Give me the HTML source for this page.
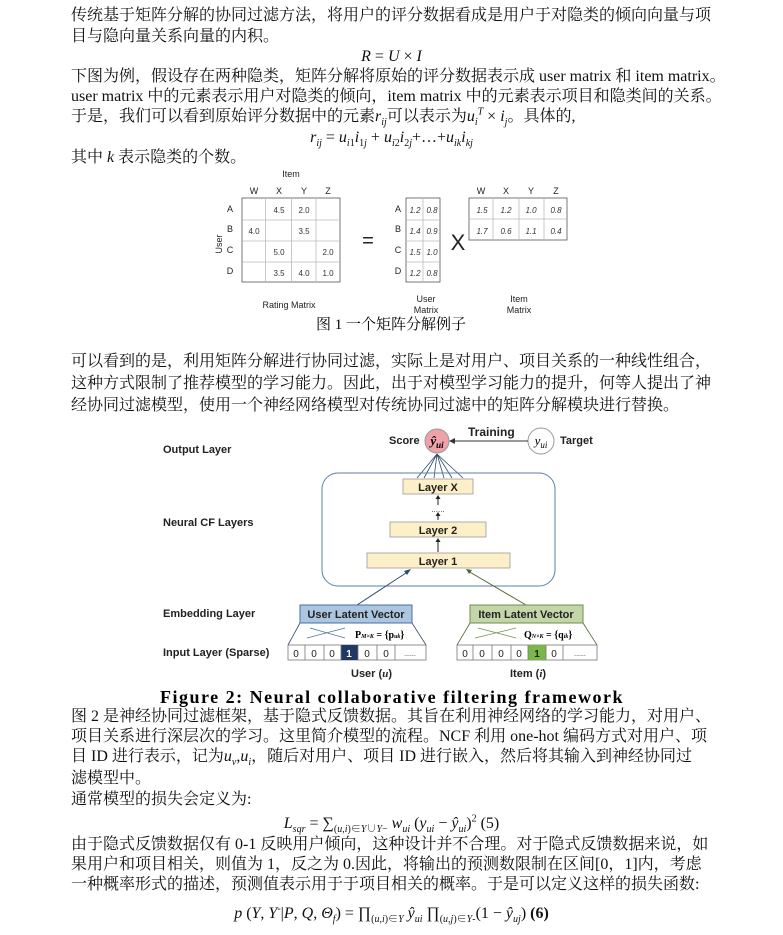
<!DOCTYPE html>
<html><head><meta charset="utf-8"><style>
body{margin:0;background:#fff;width:783px;height:935px;position:relative;overflow:hidden;font-family:"Liberation Serif","Noto Serif CJK SC",serif;color:#111}
.l{position:absolute;left:71px;font-size:16px;white-space:nowrap;line-height:20px;height:20px}
.c{position:absolute;left:0;width:783px;text-align:center;font-size:16px;white-space:nowrap;line-height:20px;height:20px}
i{font-style:italic}
sub,sup{line-height:0;font-size:10px}
svg{position:absolute;left:0;top:0}
</style></head><body>
<div class="l" style="top:6px">传统基于矩阵分解的协同过滤方法，将用户的评分数据看成是用户于对隐类的倾向向量与项</div>
<div class="l" style="top:27px">目与隐向量关系向量的内积。</div>
<div class="c" style="top:47px"><i>R</i> = <i>U</i> × <i>I</i></div>
<div class="l" style="top:67px">下图为例，假设存在两种隐类，矩阵分解将原始的评分数据表示成 user matrix 和 item matrix。</div>
<div class="l" style="top:87px">user matrix 中的元素表示用户对隐类的倾向，item matrix 中的元素表示项目和隐类间的关系。</div>
<div class="l" style="top:107px">于是，我们可以看到原始评分数据中的元素<i>r<sub>ij</sub></i>可以表示为<i>u<sub>i</sub><sup>T</sup></i> × <i>i<sub>j</sub></i>。具体的,</div>
<div class="c" style="top:128px"><i>r<sub>ij</sub></i> = <i>u</i><sub><i>i</i>1</sub><i>i</i><sub>1<i>j</i></sub> + <i>u</i><sub><i>i</i>2</sub><i>i</i><sub>2<i>j</i></sub>+…+<i>u<sub>ik</sub>i<sub>kj</sub></i></div>
<div class="l" style="top:148px">其中 <i>k</i> 表示隐类的个数。</div>

<svg width="783" height="935" font-family="Liberation Sans, DejaVu Sans, sans-serif">
<g font-size="9" fill="#222" text-anchor="middle">
<text x="291" y="177">Item</text>
<text x="254" y="194">W</text><text x="279" y="194">X</text><text x="304" y="194">Y</text><text x="328" y="194">Z</text>
<text x="230" y="212">A</text><text x="230" y="232">B</text><text x="230" y="253">C</text><text x="230" y="274">D</text>
<text transform="translate(222,244) rotate(-90)">User</text>
</g>
<g stroke="#555" fill="none" stroke-width="0.8">
<rect x="242" y="198" width="98" height="84"/>
<path d="M265.6 198V282M291.6 198V282M316 198V282M242 220H340M242 241H340M242 262H340" stroke="#bbb"/>
<rect x="406" y="198" width="34" height="84"/>
<path d="M423 198V282M406 220H440M406 241H440M406 262H440" stroke="#bbb"/>
<rect x="469" y="198" width="98" height="42"/>
<path d="M493 198V240M519 198V240M544 198V240M469 219H567" stroke="#bbb"/>
</g>
<g font-size="8" fill="#333" text-anchor="middle">
<text x="279" y="213">4.5</text><text x="304" y="213">2.0</text>
<text x="254" y="234">4.0</text><text x="304" y="234">3.5</text>
<text x="279" y="255">5.0</text><text x="328" y="255">2.0</text>
<text x="279" y="276">3.5</text><text x="304" y="276">4.0</text><text x="328" y="276">1.0</text>
</g>
<g font-size="8" fill="#333" text-anchor="middle" font-style="italic">
<text x="415" y="213">1.2</text><text x="432" y="213">0.8</text>
<text x="415" y="234">1.4</text><text x="432" y="234">0.9</text>
<text x="415" y="255">1.5</text><text x="432" y="255">1.0</text>
<text x="415" y="276">1.2</text><text x="432" y="276">0.8</text>
<text x="482" y="213">1.5</text><text x="506" y="213">1.2</text><text x="531" y="213">1.0</text><text x="556" y="213">0.8</text>
<text x="482" y="234">1.7</text><text x="506" y="234">0.6</text><text x="531" y="234">1.1</text><text x="556" y="234">0.4</text>
</g>
<g font-size="9" fill="#222" text-anchor="middle">
<text x="398" y="212">A</text><text x="398" y="232">B</text><text x="398" y="253">C</text><text x="398" y="274">D</text>
<text x="481" y="194">W</text><text x="506" y="194">X</text><text x="531" y="194">Y</text><text x="556" y="194">Z</text>
<text x="289" y="308">Rating Matrix</text>
<text x="426" y="302">User</text><text x="426" y="313">Matrix</text>
<text x="519" y="302">Item</text><text x="519" y="313">Matrix</text>
<text x="368" y="247" font-size="20">=</text>
<text x="458" y="250" font-size="22">X</text>
</g>
<text x="391" y="329" font-size="15" text-anchor="middle" font-family="Liberation Serif, Noto Serif CJK SC, serif">图 1 一个矩阵分解例子</text>

<g font-family="Liberation Sans, DejaVu Sans, sans-serif" font-weight="bold" font-size="11" fill="#222">
<text x="163" y="453">Output Layer</text>
<text x="163" y="526">Neural CF Layers</text>
<text x="163" y="617">Embedding Layer</text>
<text x="163" y="656">Input Layer (Sparse)</text>
<text x="389" y="444">Score</text>
<text x="468" y="436" font-size="12">Training</text>
<text x="560" y="444">Target</text>
<text x="351" y="677">User (<tspan font-style="italic" font-family="Liberation Serif">u</tspan>)</text>
<text x="510" y="677">Item (<tspan font-style="italic" font-family="Liberation Serif">i</tspan>)</text>
</g>
<g stroke="#2e4a6e" stroke-width="0.8">
<path d="M437 454L417 478M437 454L424 478M437 454L434 478M437 454L444 478M437 454L452 478M437 454L463 478"/>
</g>
<circle cx="437" cy="441" r="12" fill="#f0a0a8" stroke="#999"/>
<text x="437" y="445" font-size="13" text-anchor="middle" font-style="italic" font-weight="bold" font-family="Liberation Serif">ŷ<tspan font-size="9" dy="3">ui</tspan></text>
<circle cx="541" cy="441" r="13" fill="#fff" stroke="#999"/>
<text x="541" y="445" font-size="13" text-anchor="middle" font-style="italic" font-family="Liberation Serif">y<tspan font-size="9" dy="3">ui</tspan></text>
<path d="M528 441H451" stroke="#333"/><path d="M449 441l6 -3v6z" fill="#333"/>
<rect x="322" y="473" width="233" height="113" rx="16" fill="none" stroke="#5b7fa8" stroke-width="1"/>
<g fill="#fdf0c8" stroke="#999" stroke-width="0.8">
<rect x="403" y="479" width="70" height="15"/>
<rect x="390" y="522" width="96" height="15"/>
<rect x="367" y="553" width="143" height="15"/>
</g>
<g font-family="Liberation Sans, DejaVu Sans, sans-serif" font-weight="bold" font-size="11" fill="#222" text-anchor="middle">
<text x="438" y="491">Layer X</text><text x="438" y="534">Layer 2</text><text x="438" y="565">Layer 1</text>
</g>
<text x="438" y="512" font-size="8" text-anchor="middle" fill="#333">......</text>
<g stroke="#222" stroke-width="1"><path d="M438 505V497M438 520V514M438 552V540"/></g>
<g fill="#222"><path d="M438 495l-2.5 4h5zM438 512l-2.5 4h5zM438 538l-2.5 4h5z"/></g>
<path d="M357 605L409 571" stroke="#2e4a6e"/><path d="M411 569l-7 2 3 4z" fill="#2e4a6e"/>
<path d="M526 605L468 571" stroke="#4a6a30"/><path d="M466 569l3 5 3-4z" fill="#4a6a30"/>
<rect x="300" y="605" width="112" height="18" fill="#adc6e0" stroke="#4a6fa0"/>
<rect x="470" y="605" width="113" height="18" fill="#c3d6a9" stroke="#6d8f4a"/>
<g font-family="Liberation Sans, DejaVu Sans, sans-serif" font-weight="bold" font-size="11" fill="#222" text-anchor="middle">
<text x="356" y="618">User Latent Vector</text><text x="526" y="618">Item Latent Vector</text>
</g>
<path d="M300 623L288 645M412 623L426 645" stroke="#2e4a6e" stroke-width="0.8"/>
<path d="M470 623L457 645M583 623L597 645" stroke="#4a6a30" stroke-width="0.8"/>
<path d="M307 638L345 628M310 628L345 638" stroke="#4a6fa0" stroke-width="0.7"/>
<path d="M475 638L516 628M478 628L516 638" stroke="#6d8f4a" stroke-width="0.7"/>
<text x="355" y="638" font-size="10" font-family="Liberation Serif" font-weight="bold">P<tspan font-size="6" font-style="italic">M×K</tspan> = {p<tspan font-size="6" font-style="italic">uk</tspan>}</text>
<text x="524" y="638" font-size="10" font-family="Liberation Serif" font-weight="bold">Q<tspan font-size="6" font-style="italic">N×K</tspan> = {q<tspan font-size="6" font-style="italic">ik</tspan>}</text>
<g stroke="#777" stroke-width="0.8" fill="#fff">
<rect x="288" y="645" width="138" height="15"/>
<rect x="457" y="645" width="140" height="15"/>
</g>
<rect x="341" y="645" width="17" height="15" fill="#1f3864"/>
<rect x="528" y="645" width="18" height="15" fill="#7ab648"/>
<g stroke="#777" stroke-width="0.8"><path d="M305 645v15M324 645v15M341 645v15M358 645v15M377 645v15M395 645v15M473 645v15M492 645v15M511 645v15M528 645v15M546 645v15M563 645v15"/></g>
<g font-family="Liberation Sans" font-size="10" fill="#222" text-anchor="middle">
<text x="296" y="657">0</text><text x="314" y="657">0</text><text x="332" y="657">0</text><text x="349" y="657" fill="#fff" font-weight="bold">1</text><text x="367" y="657">0</text><text x="386" y="657">0</text><text x="410" y="656" font-size="7">......</text>
<text x="465" y="657">0</text><text x="482" y="657">0</text><text x="501" y="657">0</text><text x="519" y="657">0</text><text x="537" y="657" font-weight="bold">1</text><text x="554" y="657">0</text><text x="580" y="656" font-size="7">......</text>
</g>
<text x="392" y="703" font-size="18" font-weight="bold" text-anchor="middle" font-family="Liberation Serif" letter-spacing="1.5">Figure 2: Neural collaborative filtering framework</text>
</svg>

<div class="l" style="top:352px">可以看到的是，利用矩阵分解进行协同过滤，实际上是对用户、项目关系的一种线性组合，</div>
<div class="l" style="top:374px">这种方式限制了推荐模型的学习能力。因此，出于对模型学习能力的提升，何等人提出了神</div>
<div class="l" style="top:396px">经协同过滤模型，使用一个神经网络模型对传统协同过滤中的矩阵分解模块进行替换。</div>

<div class="l" style="top:707px">图 2 是神经协同过滤框架，基于隐式反馈数据。其旨在利用神经网络的学习能力，对用户、</div>
<div class="l" style="top:727px">项目关系进行深层次的学习。这里简介模型的流程。NCF 利用 one-hot 编码方式对用户、项</div>
<div class="l" style="top:747px">目 ID 进行表示，记为<i>u<sub>v</sub></i>,<i>u<sub>i</sub></i>，随后对用户、项目 ID 进行嵌入，然后将其输入到神经协同过</div>
<div class="l" style="top:769px">滤模型中。</div>
<div class="l" style="top:790px">通常模型的损失会定义为:</div>
<div class="c" style="top:814px"><i>L<sub>sqr</sub></i> = ∑<sub>(<i>u</i>,<i>i</i>)∈<i>Y</i>∪<i>Y</i>−</sub> <i>w<sub>ui</sub></i> (<i>y<sub>ui</sub></i> − <i>ŷ<sub>ui</sub></i>)<sup>2</sup> (5)</div>
<div class="l" style="top:835px">由于隐式反馈数据仅有 0-1 反映用户倾向，这种设计并不合理。对于隐式反馈数据来说，如</div>
<div class="l" style="top:855px">果用户和项目相关，则值为 1，反之为 0.因此，将输出的预测数限制在区间[0，1]内，考虑</div>
<div class="l" style="top:875px">一种概率形式的描述，预测值表示用于于项目相关的概率。于是可以定义这样的损失函数:</div>
<div class="c" style="top:904px"><i>p</i> (<i>Y</i>, <i>Y</i><sup>-</sup>|<i>P</i>, <i>Q</i>, <i>Θ<sub>f</sub></i>) = ∏<sub>(<i>u</i>,<i>i</i>)∈<i>Y</i></sub> <i>ŷ<sub>ui</sub></i> ∏<sub>(<i>u</i>,<i>j</i>)∈<i>Y</i>-</sub>(1 − <i>ŷ<sub>uj</sub></i>) <b>(6)</b></div>
</body></html>
